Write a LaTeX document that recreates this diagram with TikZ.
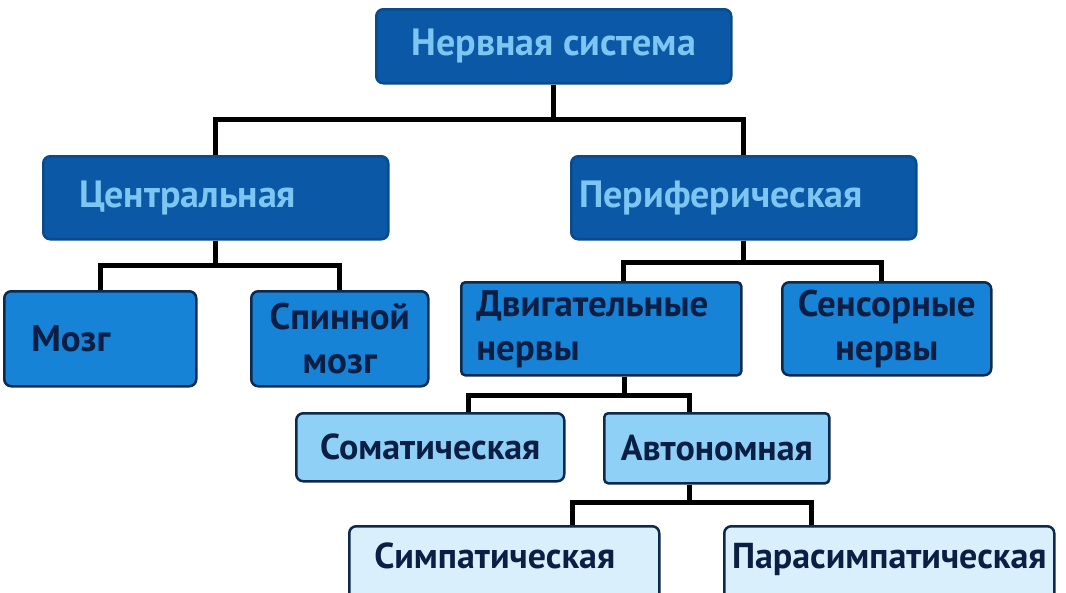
\documentclass[tikz,border=0pt]{standalone}
\usepackage{fontspec}
\setmainfont{PT Sans}
\definecolor{deep}{HTML}{0B58A6}
\definecolor{mid}{HTML}{1683D6}
\definecolor{pale}{HTML}{8FD1F6}
\definecolor{paler}{HTML}{D9F0FC}
\definecolor{edge}{HTML}{0D2A4E}
\definecolor{lighttext}{HTML}{7DC6F2}
\definecolor{darktext}{HTML}{0B1F45}
\begin{document}
\begin{tikzpicture}[x=1pt, y=-1pt,
  box/.style = {rounded corners = 7pt, line width = 2.5pt, inner sep = 0pt, anchor = north west},
  top/.style = {box, draw = deep!85!black, fill = deep, text = lighttext, font = \bfseries\fontsize{38}{42}\selectfont},
  main/.style = {box, draw = edge, fill = mid, text = darktext, font = \bfseries\fontsize{37}{44}\selectfont},
  sub/.style = {box, draw = edge, fill = pale, text = darktext, font = \bfseries\fontsize{36}{40}\selectfont},
  leaf/.style = {box, draw = edge, fill = paler, text = darktext, font = \bfseries\fontsize{36}{40}\selectfont, text height = 42pt, text depth = 60pt},
  link/.style = {line width = 5pt, black}]
                \clip (0,0) rectangle (1066,592);
                \node[top, minimum width = 355, minimum height = 74] (ns) at (375,8) {Нервная система};
                \node[top, minimum width = 345, minimum height = 83, text width = 273, align = left] (c) at (42,155) {Центральная};
                \node[top, minimum width = 345, minimum height = 83, text width = 329, align = left] (p) at (570,155) {Периферическая};

                \node[main, minimum width = 192, minimum height = 95, text width = 138, align = left] (m) at (3,290) {Мозг};
                \node[main, minimum width = 177, minimum height = 95, align = center] (sm) at (250,290) {Спинной\\мозг};
                \node[main, rounded corners = 4pt, minimum width = 280, minimum height = 93, text width = 250, align = left] (dn) at (460,281) {Двигательные\\нервы};
                \node[main, minimum width = 209, minimum height = 93, align = center] (sn) at (781,281) {Сенсорные\\нервы};

                \node[sub, minimum width = 268, minimum height = 68] (so) at (295,412) {Соматическая};
                \node[sub, rounded corners = 4pt, minimum width = 225, minimum height = 70] (av) at (603,412) {Автономная};

                \node[leaf, minimum width = 310, text width = 260, align = left] (sy) at (348,525) {Симпатическая};
                \node[leaf, minimum width = 330] (ps) at (723,525) {Парасимпатическая};

                \draw[link] (ns.south) -- ++(0,35) -| (c.north);
                \draw[link] (ns.south) -- ++(0,35) -| (p.north);
                \draw[link] (c.south) -- ++(0,25) -| (m.north);
                \draw[link] (c.south) -- ++(0,25) -| (sm.north);
                \draw[link] (p.south) -- ++(0,22) -| ([xshift = 22pt]dn.north);
                \draw[link] (p.south) -- ++(0,22) -| ([xshift = -5pt]sn.north);
                \draw[link] ([xshift = 23pt]dn.south) -- ++(0,19) -| ([xshift = 38pt]so.north);
                \draw[link] ([xshift = 23pt]dn.south) -- ++(0,19) -| ([xshift = -27pt]av.north);
                \draw[link] ([xshift = -27pt]av.south) -- ++(0,18) -| ([xshift = 68pt]sy.north);
                \draw[link] ([xshift = -27pt]av.south) -- ++(0,18) -| ([xshift = -78pt]ps.north);

            \end{tikzpicture}
\end{document}
